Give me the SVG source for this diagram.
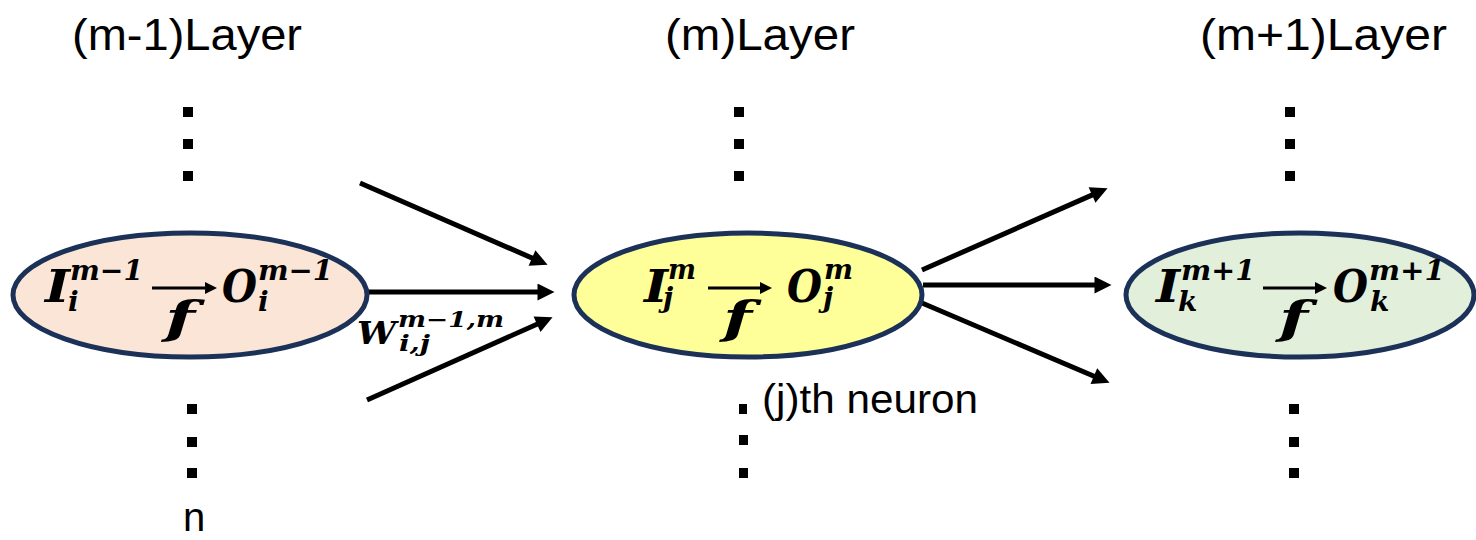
<svg xmlns="http://www.w3.org/2000/svg" width="1476" height="540" viewBox="0 0 1476 540">
<style>
.title{font-family:"Liberation Sans",Arial,sans-serif;font-size:44px;fill:#000}
.lbl{font-family:"Liberation Sans",Arial,sans-serif;font-size:40px;fill:#000}
.m{font-family:"DejaVu Serif","Liberation Serif",serif;font-weight:bold;font-style:italic;fill:#000}
.big{font-size:44px}
.sm{font-size:28px}
.xs{font-size:22px}
.node{stroke:#1b3158;stroke-width:5}
.conn{stroke:#000;stroke-width:5;fill:none}
.inner{stroke:#000;stroke-width:3;fill:none}
.dot{fill:#000}
</style>
<defs>
<marker id="ah" viewBox="0 0 10 10" markerUnits="userSpaceOnUse" markerWidth="18" markerHeight="17" refX="5" refY="5" orient="auto">
<path d="M0,0 L10,5 L0,10 z" fill="#000"/>
</marker>
<marker id="ahs" viewBox="0 0 10 10" markerUnits="userSpaceOnUse" markerWidth="14" markerHeight="12" refX="5" refY="5" orient="auto">
<path d="M0,0 L10,5 L0,10 z" fill="#000"/>
</marker>
</defs>

<g id="titles">
<text class="title" x="72" y="50" textLength="230" lengthAdjust="spacingAndGlyphs">(m-1)Layer</text>
<text class="title" x="665" y="50" textLength="190" lengthAdjust="spacingAndGlyphs">(m)Layer</text>
<text class="title" x="1200" y="50" textLength="247" lengthAdjust="spacingAndGlyphs">(m+1)Layer</text>
</g>

<g id="dots">
<rect class="dot" x="183" y="107" width="10" height="10"/>
<rect class="dot" x="183" y="139" width="10" height="10"/>
<rect class="dot" x="183" y="171" width="10" height="10"/>
<rect class="dot" x="187" y="404" width="10" height="10"/>
<rect class="dot" x="187" y="437" width="10" height="10"/>
<rect class="dot" x="187" y="468" width="10" height="10"/>
<rect class="dot" x="734" y="107" width="10" height="10"/>
<rect class="dot" x="734" y="139" width="10" height="10"/>
<rect class="dot" x="734" y="171" width="10" height="10"/>
<rect class="dot" x="739" y="404" width="8" height="10"/>
<rect class="dot" x="739" y="435" width="9" height="10"/>
<rect class="dot" x="739" y="468" width="9" height="10"/>
<rect class="dot" x="1285" y="107" width="10" height="10"/>
<rect class="dot" x="1285" y="139" width="10" height="10"/>
<rect class="dot" x="1285" y="171" width="10" height="10"/>
<rect class="dot" x="1289" y="404" width="10" height="10"/>
<rect class="dot" x="1289" y="437" width="10" height="10"/>
<rect class="dot" x="1289" y="468" width="10" height="10"/>
</g>

<text class="lbl" x="183" y="531" font-size="36">n</text>
<text class="lbl" x="762" y="413" textLength="216" lengthAdjust="spacingAndGlyphs">(j)th neuron</text>

<g id="connectors">
<path class="conn" d="M360,183 L539.8,261.4" marker-end="url(#ah)"/>
<path class="conn" d="M367,292 L546,292" marker-end="url(#ah)"/>
<path class="conn" d="M367,400 L544.8,320.7" marker-end="url(#ah)"/>
<path class="conn" d="M922,270 L1099.8,191.6" marker-end="url(#ah)"/>
<path class="conn" d="M923,285 L1103,285" marker-end="url(#ah)"/>
<path class="conn" d="M922,303 L1101.7,379.5" marker-end="url(#ah)"/>
</g>

<g id="weight-label">
<text class="m" font-size="31" x="357" y="344" textLength="39" lengthAdjust="spacingAndGlyphs">W</text>
<text class="m xs" x="398" y="327" textLength="106" lengthAdjust="spacingAndGlyphs">m−1,m</text>
<text class="m xs" x="399" y="351" textLength="31" lengthAdjust="spacingAndGlyphs">i,j</text>
</g>

<g id="node-m-1">
<ellipse class="node" cx="190" cy="295" rx="177" ry="62" fill="#fbe5d6"/>
<text class="m big" x="45" y="302" textLength="25" lengthAdjust="spacingAndGlyphs">I</text>
<text class="m sm" x="70" y="280" textLength="73" lengthAdjust="spacingAndGlyphs">m−1</text>
<text class="m sm" x="68" y="311">i</text>
<path class="inner" d="M152,288 L211,288" marker-end="url(#ahs)"/>
<text class="m big" x="165" y="333" textLength="30" lengthAdjust="spacingAndGlyphs">f</text>
<text class="m big" x="222" y="302" textLength="35" lengthAdjust="spacingAndGlyphs">O</text>
<text class="m sm" x="258" y="280" textLength="75" lengthAdjust="spacingAndGlyphs">m−1</text>
<text class="m sm" x="258" y="311">i</text>
</g>

<g id="node-m">
<ellipse class="node" cx="748" cy="295" rx="174" ry="62" fill="#ffff99"/>
<text class="m big" x="644" y="302" textLength="24" lengthAdjust="spacingAndGlyphs">I</text>
<text class="m sm" x="668" y="279" textLength="28" lengthAdjust="spacingAndGlyphs">m</text>
<text class="m sm" x="663" y="307">j</text>
<path class="inner" d="M708,288 L766,288" marker-end="url(#ahs)"/>
<text class="m big" x="723" y="333" textLength="29" lengthAdjust="spacingAndGlyphs">f</text>
<text class="m big" x="787" y="302" textLength="35" lengthAdjust="spacingAndGlyphs">O</text>
<text class="m sm" x="824" y="279" textLength="29" lengthAdjust="spacingAndGlyphs">m</text>
<text class="m sm" x="823" y="307">j</text>
</g>

<g id="node-m1">
<ellipse class="node" cx="1300" cy="295" rx="174" ry="62" fill="#e2efda"/>
<text class="m big" x="1156" y="302" textLength="24" lengthAdjust="spacingAndGlyphs">I</text>
<text class="m sm" x="1181" y="280" textLength="74" lengthAdjust="spacingAndGlyphs">m+1</text>
<text class="m sm" x="1178" y="311">k</text>
<path class="inner" d="M1263,288 L1321,288" marker-end="url(#ahs)"/>
<text class="m big" x="1279" y="333" textLength="29" lengthAdjust="spacingAndGlyphs">f</text>
<text class="m big" x="1333" y="302" textLength="35" lengthAdjust="spacingAndGlyphs">O</text>
<text class="m sm" x="1369" y="280" textLength="76" lengthAdjust="spacingAndGlyphs">m+1</text>
<text class="m sm" x="1370" y="311">k</text>
</g>
</svg>
